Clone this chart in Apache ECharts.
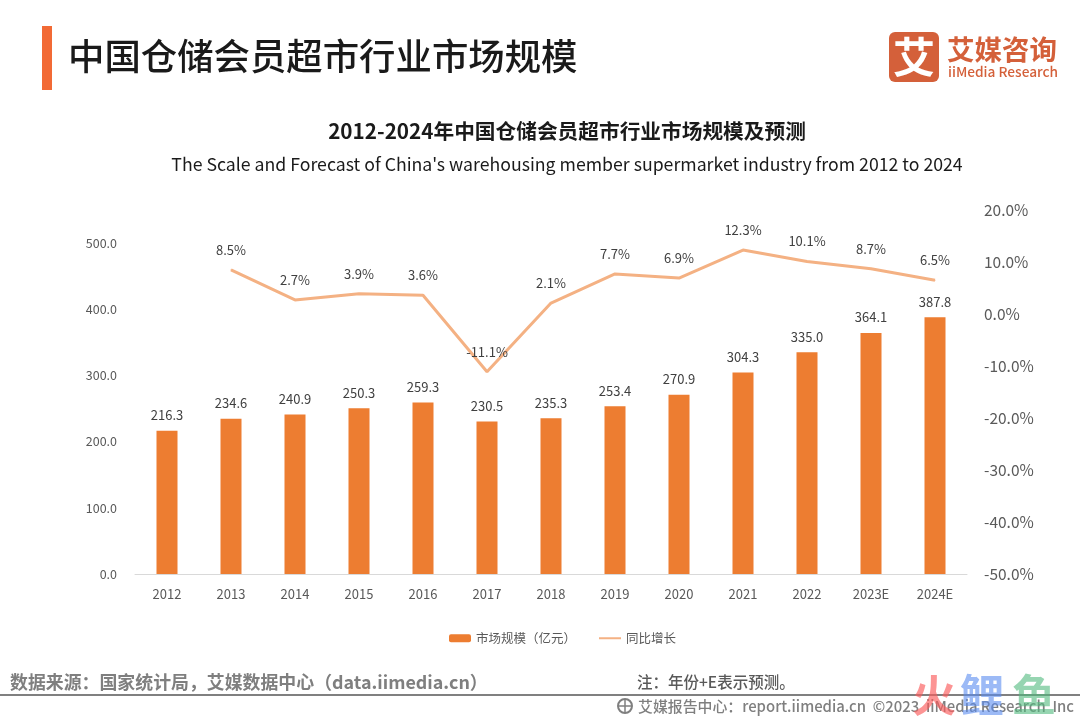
<!DOCTYPE html>
<html>
<head>
<meta charset="utf-8">
<title>中国仓储会员超市行业市场规模</title>
<script src="https://cdn.jsdelivr.net/npm/echarts@6/dist/echarts.min.js"></script>
<style>
  html, body { margin: 0; padding: 0; background: #fff; }
  #chart { width: 1080px; height: 720px; }
</style>
</head>
<body>
<div id="chart"></div>
<script>
const years = ["2012", "2013", "2014", "2015", "2016", "2017", "2018", "2019", "2020", "2021", "2022", "2023E", "2024E"];
const marketSize = [216.3, 234.6, 240.9, 250.3, 259.3, 230.5, 235.3, 253.4, 270.9, 304.3, 335.0, 364.1, 387.8];
const yoyGrowth = [null, 8.5, 2.7, 3.9, 3.6, -11.1, 2.1, 7.7, 6.9, 12.3, 10.1, 8.7, 6.5];

const FONT = '"Noto Sans CJK SC", "Noto Sans", sans-serif';

function text(x, y, str, fontSize, fill, extra) {
  return {
    type: "text",
    x,
    y,
    z: 10,
    style: Object.assign({ text: str, fontFamily: FONT, fontSize, fill, textVerticalAlign: "middle" }, extra || {}),
  };
}

const chart = echarts.init(document.getElementById("chart"), null, { renderer: "canvas" });

chart.setOption({
  backgroundColor: "#fff",
  animation: false,
  textStyle: { fontFamily: FONT },
  grid: { left: 135, right: 113, top: 210, bottom: 146, containLabel: false },
  legend: {
    left: 449,
    top: 632,
    padding: 0,
    itemWidth: 22,
    itemHeight: 8,
    itemGap: 22,
    textStyle: { fontSize: 12.5, color: "#595959" },
    data: [
      { name: "市场规模（亿元）" },
      // hide the marker dot, keep only the stroke
      { name: "同比增长", itemStyle: { opacity: 0 } },
    ],
  },
  xAxis: {
    type: "category",
    data: years,
    axisLine: { lineStyle: { color: "#d9d9d9", width: 1 } },
    axisTick: { show: false },
    axisLabel: { fontSize: 13, color: "#595959", margin: 14 },
  },
  yAxis: [
    {
      type: "value",
      min: 0,
      max: 550,
      interval: 100,
      splitLine: { show: false },
      axisLine: { show: false },
      axisTick: { show: false },
      axisLabel: {
        fontSize: 12.5,
        color: "#595959",
        margin: 18,
        showMaxLabel: false,
        formatter: (v) => v.toFixed(1),
      },
    },
    {
      type: "value",
      min: -50,
      max: 20,
      interval: 10,
      splitLine: { show: false },
      axisLine: { show: false },
      axisTick: { show: false },
      axisLabel: {
        fontSize: 15.5,
        color: "#595959",
        margin: 17,
        formatter: (v) => v.toFixed(1) + "%",
      },
    },
  ],
  series: [
    {
      name: "市场规模（亿元）",
      type: "bar",
      data: marketSize,
      barWidth: 21,
      itemStyle: { color: "#ed7d31" },
      label: {
        show: true,
        position: "top",
        distance: 9,
        fontSize: 13,
        color: "#404040",
        formatter: (p) => p.value.toFixed(1),
      },
    },
    {
      name: "同比增长",
      type: "line",
      yAxisIndex: 1,
      data: yoyGrowth,
      symbol: "circle",
      symbolSize: 1,
      connectNulls: false,
      lineStyle: { color: "#f4b183", width: 3 },
      itemStyle: { color: "#f4b183" },
      label: {
        show: true,
        position: "top",
        distance: 13,
        fontSize: 13,
        color: "#404040",
        formatter: (p) => p.value.toFixed(1) + "%",
      },
      z: 5,
    },
  ],
  graphic: [
    // header
    { type: "rect", shape: { x: 42, y: 26, width: 10, height: 64 }, style: { fill: "#f26a35" } },
    text(68, 56, "中国仓储会员超市行业市场规模", 36.4, "#1a1a1a", { fontWeight: 500 }),
    // logo
    { type: "rect", shape: { x: 889, y: 32, width: 50, height: 50, r: 6 }, style: { fill: "#d4603a" } },
    text(914, 57, "艾", 42, "#fff", { fontWeight: 700, textAlign: "center" }),
    text(947, 50, "艾媒咨询", 27.5, "#d4603a", { fontWeight: 700 }),
    text(948, 72, "iiMedia Research", 13.7, "#d4603a", { fontWeight: 500 }),
    // chart heading
    text(567, 131, "2012-2024年中国仓储会员超市行业市场规模及预测", 20.7, "#1a1a1a", { fontWeight: 700, textAlign: "center" }),
    text(567, 164, "The Scale and Forecast of China's warehousing member supermarket industry from 2012 to 2024", 17.7, "#1a1a1a", { textAlign: "center" }),
    // footer
    text(10, 682, "数据来源：国家统计局，艾媒数据中心（data.iimedia.cn）", 17.9, "#7f7f7f", { fontWeight: 700 }),
    text(637, 682, "注：年份+E表示预测。", 15.5, "#595959", { fontWeight: 500 }),
    { type: "rect", shape: { x: 0, y: 694, width: 1080, height: 2 }, style: { fill: "#808080" } },
    { type: "circle", shape: { cx: 625, cy: 706, r: 7 }, style: { fill: "none", stroke: "#7f7f7f", lineWidth: 2 } },
    { type: "line", shape: { x1: 625, y1: 699, x2: 625, y2: 713 }, style: { stroke: "#7f7f7f", lineWidth: 1.5 } },
    { type: "line", shape: { x1: 618, y1: 706, x2: 632, y2: 706 }, style: { stroke: "#7f7f7f", lineWidth: 1.5 } },
    text(638, 706, "艾媒报告中心：report.iimedia.cn  ©2023  iiMedia Research  Inc", 14.9, "#7f7f7f", { fontWeight: 500 }),
    // watermark
    text(912, 695, "火", 44, "rgba(250,90,90,0.65)", { fontWeight: 700 }),
    text(960, 695, "鲤", 44, "rgba(90,140,240,0.6)", { fontWeight: 700 }),
    text(1012, 695, "鱼", 44, "rgba(80,185,125,0.6)", { fontWeight: 700 }),
  ],
});
</script>
</body>
</html>
